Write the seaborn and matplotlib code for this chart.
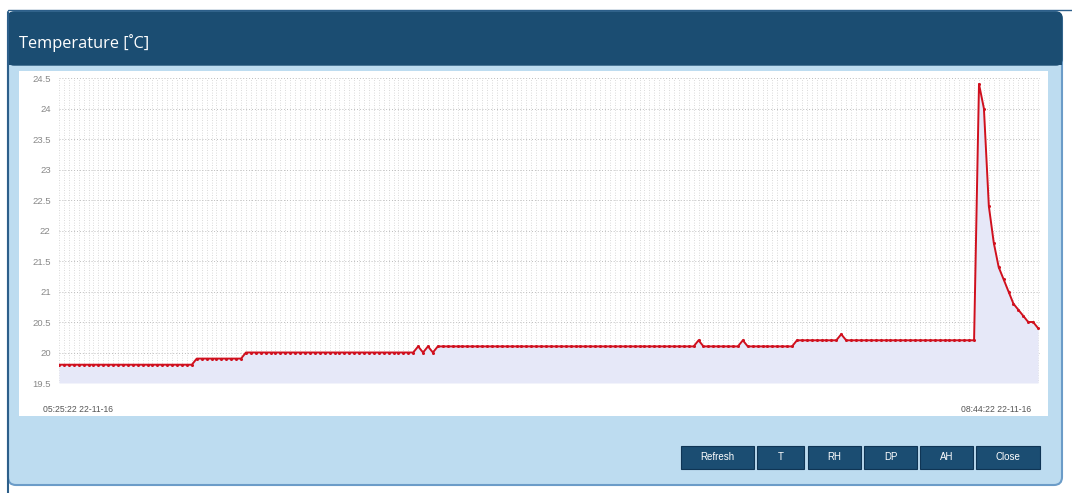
import pandas as pd
import matplotlib
matplotlib.use('Agg')
import matplotlib.pyplot as plt
import seaborn as sns
from matplotlib.patches import Rectangle, FancyBboxPatch

# readings, one per minute
start = '2016-11-22 05:25:22'
temps = ([19.8] * 28 + [19.9] * 10 + [20.0] * 35 +
         [20.1, 20.0, 20.1, 20.0] + [20.1] * 53 + [20.2] + [20.1] * 8 +
         [20.2] + [20.1] * 10 + [20.2] * 9 + [20.3] + [20.2] * 27 +
         [24.4, 24.0, 22.4, 21.8, 21.4, 21.2, 21.0, 20.8, 20.7, 20.6, 20.5, 20.5, 20.4])
times = pd.date_range(start, periods=len(temps), freq='min')
y_ticks = [19.5, 20, 20.5, 21, 21.5, 22, 22.5, 23, 23.5, 24, 24.5]
first_label = '05:25:22 22-11-16'
last_label = '08:44:22 22-11-16'
buttons = ['Refresh', 'T', 'RH', 'DP', 'AH', 'Close']

df = pd.DataFrame({'time': times, 'temp': temps})

sns.set_style('white')
plt.rcParams['font.family'] = ['Liberation Sans', 'DejaVu Sans']

W, H = 1072, 493
fig = plt.figure(figsize=(W / 100, H / 100), dpi=100)
fig.patch.set_facecolor('white')

# background panel drawn in pixel space
bg = fig.add_axes([0, 0, 1, 1], zorder=0)
bg.set_xlim(0, W)
bg.set_ylim(H, 0)
bg.axis('off')
dark = '#1b4d72'
bg.plot([8, W], [10, 10], color='#2d5f8a', lw=1)
bg.plot([7.5, 7.5], [12, H], color='#2d5f8a', lw=1.5)
bg.add_patch(FancyBboxPatch((8, 12), 1054, 473, boxstyle='round,pad=0,rounding_size=8',
                            fc='#bddcf0', ec='#6b9cc8', lw=1.5))
bg.add_patch(FancyBboxPatch((8, 12), 1054, 53, boxstyle='round,pad=0,rounding_size=6',
                            fc=dark, ec=dark, lw=1))
bg.add_patch(Rectangle((8, 40), 1054, 25, fc=dark, ec='none'))
bg.text(19, 43, 'Temperature [\u02daC]', color='white', fontsize=11.8,
        family=['Open Sans', 'DejaVu Sans'], va='center', ha='left')
bg.add_patch(Rectangle((19, 71), 1029, 345, fc='white', ec='none'))

# buttons
bx = [(681, 754), (757, 804), (808, 861), (864, 917), (920, 973), (976, 1040)]
for (x0, x1), name in zip(bx, buttons):
    bg.add_patch(Rectangle((x0, 446), x1 - x0, 23, fc=dark, ec='#0f3555', lw=0.8))
    bg.text((x0 + x1) / 2, 457.5, name, color='white', fontsize=7,
            ha='center', va='center')

# chart
l, r, t, b = 59, 1040, 78, 383
ax = fig.add_axes([l / W, 1 - b / H, (r - l) / W, (b - t) / H], zorder=1)
ax.set_facecolor('none')
ax.fill_between(df['time'], df['temp'], 19.5, color='#e6e8f8', lw=0, zorder=1)
sns.lineplot(data=df, x='time', y='temp', ax=ax, color='#d0101e', lw=1.4,
             marker='o', markersize=2.2, markeredgewidth=0, zorder=3)
ax.set_xlim(times[0], times[-1] + pd.Timedelta(seconds=24))
ax.set_ylim(19.5, 24.5)
ax.set_yticks(y_ticks)
ax.set_yticklabels(['%g' % v for v in y_ticks])
ax.set_xticks([])
ax.set_xticks(times, minor=True)
ax.tick_params(axis='y', length=0, labelsize=6.8, labelcolor='#888888', pad=6)
ax.tick_params(axis='x', which='both', length=0, labelbottom=False)
ax.grid(axis='x', which='minor', color='#cfcfcf', linestyle=(0, (1, 2)), lw=0.6, zorder=0)
ax.grid(axis='y', which='major', color='#bdbdbd', linestyle=(0, (1, 2)), lw=0.7, zorder=0)
ax.set_xlabel('')
ax.set_ylabel('')
for s in ax.spines.values():
    s.set_visible(False)

bg.text(78, 410, first_label, fontsize=6.2, color='#555555', ha='center', va='center')
bg.text(996, 410, last_label, fontsize=6.2, color='#555555', ha='center', va='center')

fig.savefig('out.png', dpi=100)
